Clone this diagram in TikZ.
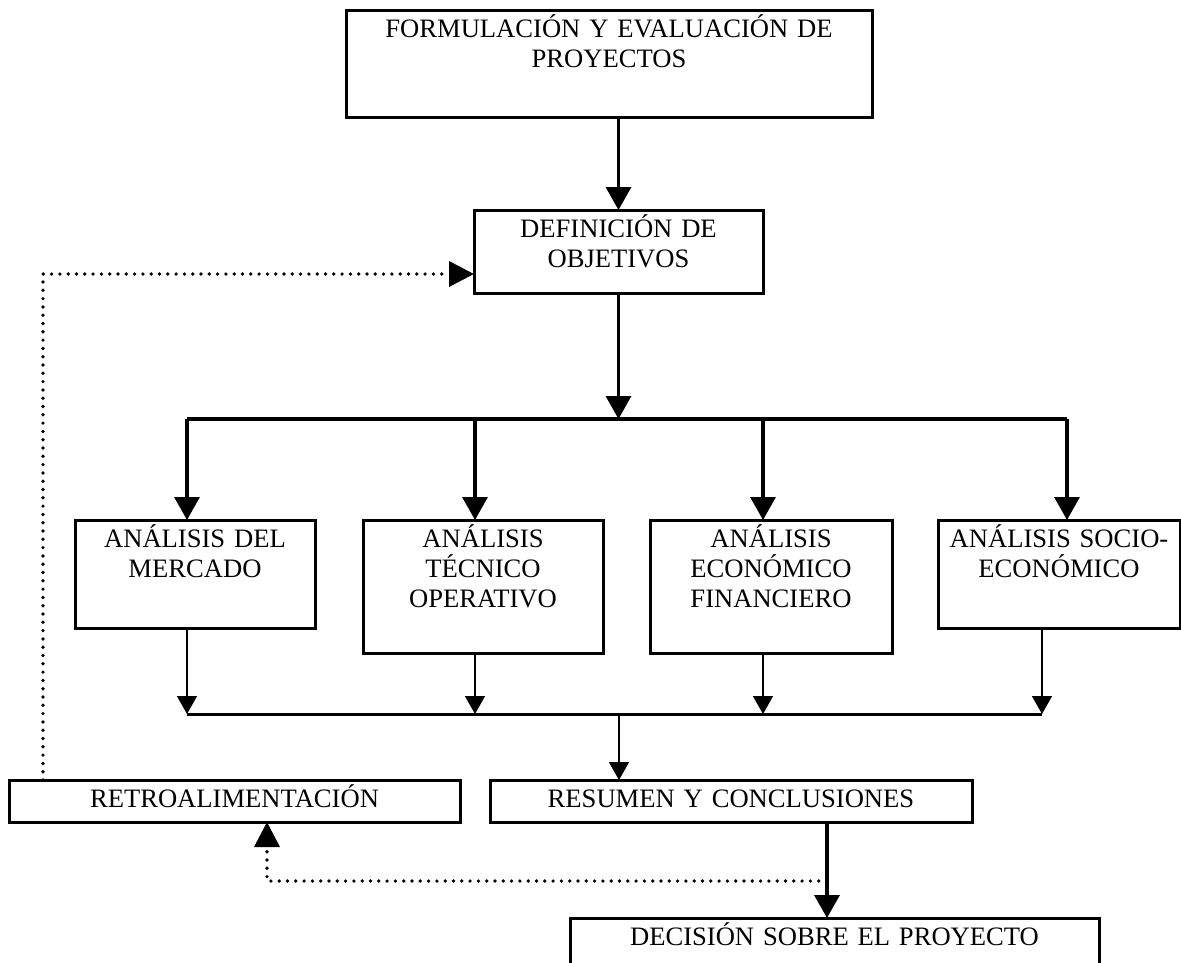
\documentclass[tikz,border=0pt]{standalone}
\usepackage{fontspec}
\setmainfont{Liberation Serif}
\usetikzlibrary{arrows.meta}
\tikzset{
  caja/.style={draw, line width=3pt, anchor=north west, inner sep=0pt, outer sep=0pt, text width=#1, align=center, text height=27pt},
  gruesa/.style={line width=3.4pt, -{Triangle[length=23pt,width=25pt]}},
  fina/.style={line width=1.5pt, -{Triangle[length=18pt,width=20pt]}},
  punteada/.style={line width=3.7pt, line cap=round, dash pattern=on 0pt off 8.3pt, -{Triangle[length=25pt,width=25pt]}},
}
\begin{document}
\begin{tikzpicture}[x=1pt, y=-1pt, font=\fontsize{26.6}{30}\selectfont]
	\useasboundingbox (0,0) rectangle (1181,962);
	\node[caja=526pt, text depth=80pt] (form) at (346,10) {FORMULACIÓN Y EVALUACIÓN DE\\PROYECTOS};
	\node[caja=289pt, text depth=56pt] (def) at (474,210) {DEFINICIÓN DE\\OBJETIVOS};
	\node[caja=240pt, text depth=81pt] (am) at (75,520) {ANÁLISIS DEL\\MERCADO};
	\node[caja=240pt, text depth=106pt] (at) at (363,520) {ANÁLISIS\\TÉCNICO\\OPERATIVO};
	\node[caja=242pt, text depth=106pt] (ae) at (650,520) {ANÁLISIS\\ECONÓMICO\\FINANCIERO};
	\node[caja=242pt, text depth=81pt] (as) at (938,520) {ANÁLISIS SOCIO-\\ECONÓMICO};
	\node[caja=451pt, text depth=15pt] (retro) at (9,780) {RETROALIMENTACIÓN};
	\node[caja=482pt, text depth=15pt] (res) at (490,780) {RESUMEN Y CONCLUSIONES};
	\node[caja=529pt, text depth=40pt] (dec) at (570,918) {DECISIÓN SOBRE EL PROYECTO};
	\coordinate (ramal) at (618.5,419);
	\coordinate (junta) at (619,714);
	\coordinate (retorno) at (827,881);
	% flechas principales
	\draw[gruesa] (form.south -| def.north) -- (def.north);
	\draw[gruesa] (def.south) -- (ramal);
	\draw[line width=3.3pt] ([xshift=-8pt]am.north |- ramal) -- ([xshift=8pt]as.north |- ramal);
	\foreach \n/\d in {am/-8,at/-8,ae/-8,as/8}
		\draw[gruesa] ([xshift=\d pt]\n.north |- ramal) -- ([xshift=\d pt]\n.north);
	\foreach \n/\d in {am/-8,at/-8,ae/-8,as/-17}
		\draw[fina] ([xshift=\d pt]\n.south) -- ([xshift=\d pt]\n.south |- junta);
	\draw[line width=3pt] ([xshift=-8pt]am.south |- junta) -- ([xshift=-17pt]as.south |- junta);
	\draw[fina] (junta) -- (junta |- res.north);
	\draw[gruesa] (res.south -| retorno) -- (dec.north -| retorno);
	% retroalimentacion
	\draw[punteada] (retorno) -| ([xshift=32.5pt]retro.south);
	\draw[punteada] ([xshift=-191.5pt]retro.north) |- ([yshift=-22.5pt]def.west);
\end{tikzpicture}
\end{document}
